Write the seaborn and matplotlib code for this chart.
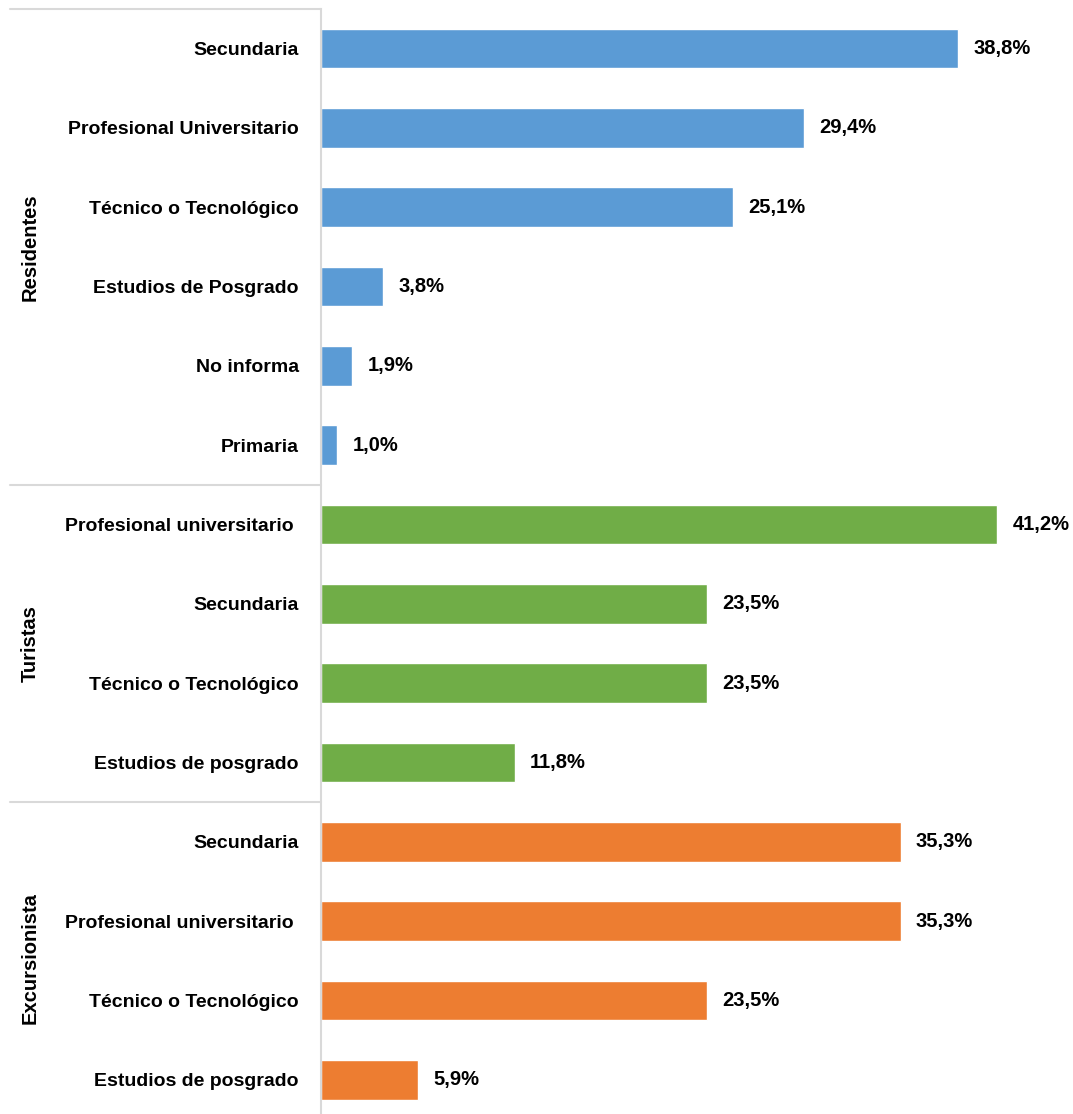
# -*- coding: utf-8 -*-

import pandas as pd
import seaborn as sns
import matplotlib.pyplot as plt
import matplotlib.transforms as mtransforms

# ---1. datos ----
grupos = ['Residentes'] * 6 + ['Turistas'] * 4 + ['Excursionista'] * 4
niveles = ['Secundaria', 'Profesional Universitario', 'Técnico o Tecnológico',
           'Estudios de Posgrado', 'No informa', 'Primaria',
           'Profesional universitario ', 'Secundaria', 'Técnico o Tecnológico',
           'Estudios de posgrado',
           'Secundaria', 'Profesional universitario ', 'Técnico o Tecnológico',
           'Estudios de posgrado']
porcentajes = [38.8, 29.4, 25.1, 3.8, 1.9, 1.0,
               41.2, 23.5, 23.5, 11.8,
               35.3, 35.3, 23.5, 5.9]
colores = {'Residentes': '#5B9BD5', 'Turistas': '#70AD47', 'Excursionista': '#ED7D31'}


def main():
    sns.set_style('white')
    plt.rcParams['font.family'] = ['Liberation Sans', 'DejaVu Sans']
    plt.rcParams['text.color'] = 'black'
    plt.rcParams['ytick.color'] = 'black'

    df = pd.DataFrame({
        'fila': [str(i) for i in range(len(niveles))],
        'grupo': grupos,
        'valor': porcentajes,
    })

    fig = plt.figure(figsize=(10.73, 11.14), dpi=100)
    ax = fig.add_axes([321 / 1073, 0, 752 / 1073, 1 - 9 / 1114])

    sns.barplot(data=df, x='valor', y='fila', hue='grupo', palette=colores,
                dodge=False, width=0.5, orient='h', legend=False, ax=ax,
                order=df['fila'].tolist(), saturation=1)

    ax.set_xlim(0, 45.8)
    ax.set_ylim(13.43, -0.5)
    ax.set_xlabel('')
    ax.set_ylabel('')
    ax.set_xticks([])
    ax.set_yticks(range(len(niveles)))
    ax.set_yticklabels(niveles, fontsize=14, fontweight='bold', color='black')
    ax.tick_params(axis='y', length=0, pad=16)

    for s in ['top', 'right', 'bottom']:
        ax.spines[s].set_visible(False)
    ax.spines['left'].set_color('#d9d9d9')
    ax.spines['left'].set_linewidth(1.5)

    # etiquetas de valor
    for cont in ax.containers:
        etiquetas = [f"{b.get_width():.1f}%".replace('.', ',') for b in cont]
        ax.bar_label(cont, labels=etiquetas, padding=11, fontsize=14.5,
                     fontweight='bold', color='black')

    # líneas separadoras de grupos
    trans = mtransforms.blended_transform_factory(ax.transAxes, ax.transData)
    x0 = (10 - 321) / 752
    for y in [-0.5, 5.5, 9.5]:
        ax.plot([x0, 0], [y, y], transform=trans, color='#d9d9d9', lw=1.5, clip_on=False)

    # nombres de grupo
    xg = (30 - 321) / 752
    for nombre, yc in [('Residentes', 2.5), ('Turistas', 7.5), ('Excursionista', 11.47)]:
        ax.text(xg, yc, nombre, transform=trans, rotation=90, ha='center', va='center',
                fontsize=14.5, fontweight='bold', color='black')

    plt.savefig('out.png', dpi=100)


if __name__ == '__main__':
    main()
